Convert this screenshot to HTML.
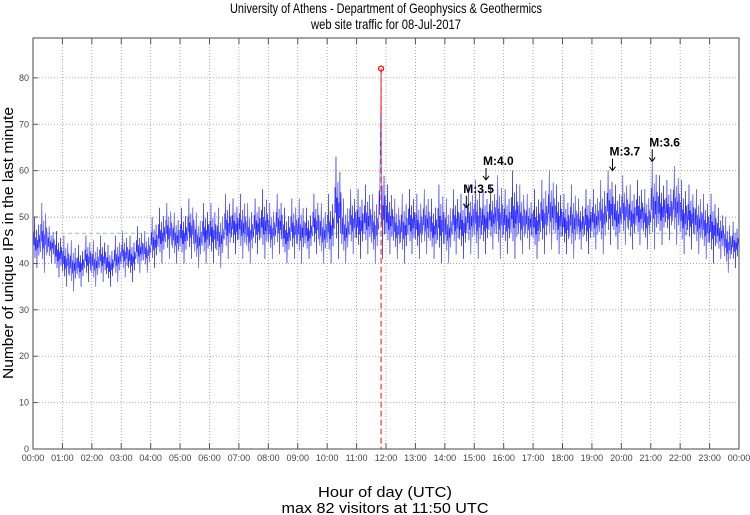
<!DOCTYPE html>
<html><head><meta charset="utf-8"><style>
html,body{margin:0;padding:0;background:#fff;}
svg{display:block;font-family:"Liberation Sans",sans-serif;}
</style></head><body>
<svg id="chart" width="750" height="515" viewBox="0 0 750 515">
<text x="386" y="13" text-anchor="middle" font-size="14" textLength="312" lengthAdjust="spacingAndGlyphs">University of Athens - Department of Geophysics &amp; Geothermics</text>
<text x="386" y="29" text-anchor="middle" font-size="14" textLength="150" lengthAdjust="spacingAndGlyphs">web site traffic for 08-Jul-2017</text>
<g id="grid"></g>
<g id="series"></g>
<g id="axes"></g>
<text x="385" y="497" text-anchor="middle" font-size="15" textLength="134" lengthAdjust="spacingAndGlyphs">Hour of day (UTC)</text>
<text x="385" y="513" text-anchor="middle" font-size="15" textLength="207" lengthAdjust="spacingAndGlyphs">max 82 visitors at 11:50 UTC</text>
<text transform="translate(13,243) rotate(-90)" text-anchor="middle" font-size="15" textLength="272" lengthAdjust="spacingAndGlyphs">Number of unique IPs in the last minute</text>
</svg>
<script>
const yTicks=[0,10,20,30,40,50,60,70,80];
const xTickLabels=["00:00","01:00","02:00","03:00","04:00","05:00","06:00","07:00","08:00","09:00","10:00","11:00","12:00","13:00","14:00","15:00","16:00","17:00","18:00","19:00","20:00","21:00","22:00","23:00","00:00"];
const binLows=[39,38,40,37,35,34,35,36,35,36,35,36,37,36,38,38,39,40,41,40,40,41,39,40,40,39,41,42,41,40,42,41,41,42,40,41,40,41,42,40,40,41,40,42,41,42,40,41,42,41,40,42,41,42,41,40,40,42,41,42,41,42,43,41,42,41,42,43,41,42,43,42,42,41,43,42,43,42,44,43,44,43,44,43,43,44,45,44,42,43,42,41,40,41,38,39];
const binHighs=[50,53,48,47,46,45,44,46,45,46,44,46,47,46,48,47,50,52,53,51,52,54,51,53,53,52,55,54,55,53,54,56,53,55,52,54,54,52,55,53,55,63,54,56,56,57,55,62,57,54,55,56,55,56,54,57,54,56,55,57,58,56,57,59,56,60,57,55,56,58,60,57,55,57,54,56,56,58,60,57,59,57,58,56,62,59,58,61,58,57,56,55,55,52,50,49];
const meanValue=46.5;
const peakValue=82;
const peakHour=11+50/60;
const spikeBlueValue=72;
const quakeLabels=["M:3.5","M:4.0","M:3.7","M:3.6"];
const quakeHours=[14.73,15.4,19.7,21.05];
const quakeLevels=[52,58,60,62];

const NS="http://www.w3.org/2000/svg";
const L=33,R=739,T=38,B=449,YMAX=88.6;
const xs=h=>L+(R-L)*h/24;
const ys=v=>B-(B-T)*v/YMAX;
function mk(tag,attrs,parent){const e=document.createElementNS(NS,tag);for(const k in attrs)e.setAttribute(k,attrs[k]);parent.appendChild(e);return e;}
const grid=document.getElementById('grid'),axes=document.getElementById('axes'),series=document.getElementById('series');
mk('rect',{x:L,y:T,width:R-L,height:B-T,fill:'#fff'},grid);
yTicks.forEach(v=>{
  if(v>0){const g=mk('line',{x1:L,x2:R,y1:ys(v),y2:ys(v),stroke:'#999','stroke-width':0.8,'stroke-dasharray':'1,2'},grid);
  
  }
  mk('line',{x1:L,x2:L+5,y1:ys(v),y2:ys(v),stroke:'#555'},axes);
  const t=mk('text',{x:L-4,y:ys(v)+3,'text-anchor':'end','font-size':9,fill:'#444'},axes);
  t.textContent=v;
  
  
});
xTickLabels.forEach((lab,i)=>{
  const x=xs(i);
  if(i>0&&i<24){const g=mk('line',{x1:x,x2:x,y1:T,y2:B,stroke:'#999','stroke-width':0.8,'stroke-dasharray':'1,2'},grid);
  
  }
  mk('line',{x1:x,x2:x,y1:B,y2:B-6,stroke:'#555'},axes);
  mk('line',{x1:x,x2:x,y1:T,y2:T+6,stroke:'#555'},axes);
  const t=mk('text',{x:x,y:B+12,'text-anchor':'middle','font-size':9,fill:'#444'},axes);
  t.textContent=lab;
  
  
});
const frame=mk('rect',{x:L,y:T,width:R-L,height:B-T,fill:'none',stroke:'#666','stroke-width':1.2},axes);


const ml=mk('line',{x1:L,x2:R,y1:ys(meanValue),y2:ys(meanValue),stroke:'#9c9','stroke-width':1,'stroke-dasharray':'4,3'},grid);


const shape=[0.3,0.7,0.45,1,0.2,0.6,0.35,0.75,0,0.55,0.4,0.85,0.25,0.65,0.5];
let pts=[];
binLows.forEach((lo,b)=>{
  const hi=binHighs[b];
  shape.forEach((f,k)=>{
    const h=(b*15+k)/60;
    let v=lo+(hi-lo)*f;
    if(Math.abs(h-(peakHour-1/60))<1e-6)v=spikeBlueValue;
    if(Math.abs(h-peakHour)<1e-6)v=peakValue;
    pts.push(xs(h).toFixed(2)+','+ys(v).toFixed(2));
  });
});
const pl=mk('polyline',{points:pts.join(' '),fill:'none',stroke:'#1a1aff','stroke-width':0.5},series);


const vl=mk('line',{x1:xs(peakHour),x2:xs(peakHour),y1:ys(peakValue),y2:B,stroke:'#f33','stroke-width':1.2,'stroke-dasharray':'6,3'},series);


const sl=mk('line',{x1:xs(peakHour),x2:xs(peakHour),y1:ys(peakValue),y2:ys(spikeBlueValue),stroke:'#f33','stroke-width':1},series);


const pc=mk('circle',{cx:xs(peakHour),cy:ys(peakValue),r:2.5,fill:'none',stroke:'#f00','stroke-width':1.2},series);


quakeLabels.forEach((lab,i)=>{
  const x=xs(quakeHours[i]),y=ys(quakeLevels[i]);
  const a=mk('path',{d:`M${x},${y-12} L${x},${y} M${x-3},${y-4} L${x},${y} L${x+3},${y-4}`,stroke:'#000','stroke-width':1,fill:'none'},series);
  
  
  const t=mk('text',{x:x-3,y:y-15,'font-size':12,'font-weight':'bold',fill:'#000'},series);
  t.textContent=lab;
  
  
});
</script>
</body></html>
